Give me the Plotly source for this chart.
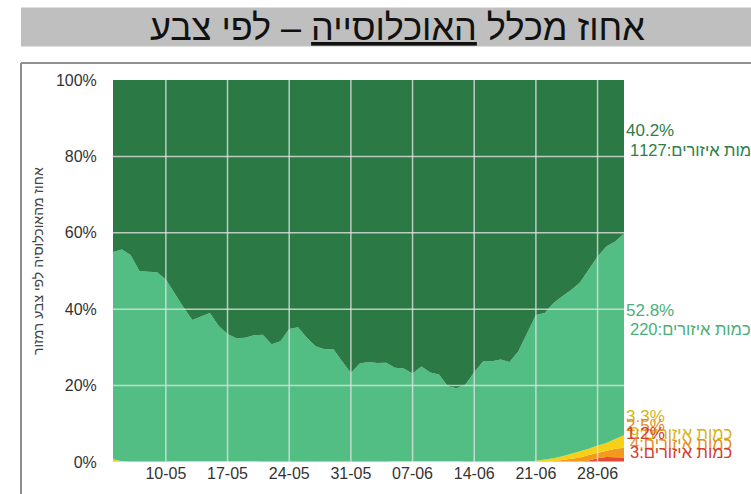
#!/usr/bin/env python3
"""
אחוז מכלל האוכלוסייה לפי צבע רמזור - גרף שטח מוערם
"""

import plotly.graph_objects as go
import pandas as pd

# 日期 (每天一个点, 04-05 到 01-07)
dates = pd.date_range("2020-05-04", "2020-07-01", freq="D")

# x 轴刻度 (每周)
tick_dates = pd.date_range("2020-05-10", "2020-06-28", freq="7D")
y_ticks = [0, 20, 40, 60, 80, 100]
y_tick_text = ["0%", "20%", "40%", "60%", "80%", "100%"]

# 各颜色所占百分比 (从下到上)
red = [0] * 54 + [0.4, 1.0, 1.3, 1.3, 1.2]
orange = [0] * 50 + [0.2, 0.5, 0.8, 1.2, 1.4, 1.3, 1.7, 2.2, 2.5]
yellow = ([0.7, 0.2] + [0] * 5 + [0.2] * 10 + [0] * 15 + [0.2] * 8 + [0] * 7
          + [0.1, 0.3, 0.6, 0.8, 1.0, 1.3, 1.5, 1.7, 2.0, 2.0, 2.5, 3.3])
light_green = [54.3, 55.4, 54.2, 50.0, 49.8, 49.7, 47.8, 43.8, 40.3, 37.0,
               38.0, 38.8, 35.4, 33.3, 32.2, 32.3, 33.0, 33.3, 30.8, 31.6,
               34.8, 35.3, 32.5, 30.3, 29.5, 29.6, 26.4, 23.3, 25.8, 26.2,
               25.9, 26.0, 24.5, 24.3, 23.0, 24.8, 23.2, 22.7, 19.6, 19.1,
               20.3, 23.5, 26.3, 26.4, 26.8, 26.2, 28.9, 33.6, 38.2, 38.4,
               40.6, 41.9, 42.9, 44.3, 46.8, 49.5, 51.4, 51.7, 52.8]
dark_green = [45.0, 44.4, 45.8, 50.0, 50.2, 50.3, 52.2, 56.0, 59.5, 62.8,
              61.8, 61.0, 64.4, 66.5, 67.6, 67.5, 66.8, 66.7, 69.2, 68.4,
              65.2, 64.7, 67.5, 69.7, 70.5, 70.4, 73.6, 76.7, 74.2, 73.8,
              74.1, 74.0, 75.3, 75.5, 76.8, 75.0, 76.6, 77.1, 80.2, 80.7,
              79.7, 76.5, 73.7, 73.6, 73.2, 73.8, 71.1, 66.3, 61.5, 61.0,
              58.4, 56.6, 55.0, 53.0, 49.7, 46.2, 43.6, 42.3, 40.2]

# 右侧标签: 百分比 + 区域数量
label_pct = ["40.2%", "52.8%", "3.3%", "2.5%", "1.2%"]
label_count = ["1127", "220", "9", "4", "3"]

W, H = 751, 494
L, R, T, B = 113, 127, 80, 32
PW, PH = W - L - R, H - T - B


def px_x(px):
    """像素 -> paper 坐标"""
    return (px - L) / PW


def px_y(py):
    return (H - B - py) / PH


def create_chart():
    series = [
        (red, "#e5493a"),
        (orange, "#f39a1e"),
        (yellow, "#f7d117"),
        (light_green, "#52be83"),
        (dark_green, "#2b7a45"),
    ]

    fig = go.Figure()
    for vals, color in series:
        fig.add_trace(go.Scatter(
            x=dates, y=vals, mode="lines", stackgroup="one",
            line=dict(width=0, color=color), fillcolor=color,
            showlegend=False, hoverinfo="skip",
        ))

    shapes = []
    # 网格线 (画在填充之上)
    for d in tick_dates:
        shapes.append(dict(type="line", xref="x", yref="y", x0=d, x1=d, y0=0, y1=100,
                           line=dict(color="rgba(225,225,225,0.8)", width=1.5), layer="above"))
    for v in y_ticks[:-1]:
        shapes.append(dict(type="line", xref="paper", yref="y", x0=0, x1=1, y0=v, y1=v,
                           line=dict(color="rgba(225,225,225,0.8)", width=1.5), layer="above"))

    # 标题灰色底条 + 外框
    shapes.append(dict(type="rect", xref="paper", yref="paper",
                       x0=px_x(21), x1=px_x(752), y0=px_y(46.5), y1=px_y(7.5),
                       fillcolor="#bfbfbf", line=dict(width=0), layer="below"))
    shapes.append(dict(type="line", xref="paper", yref="paper",
                       x0=px_x(21), x1=px_x(752), y0=px_y(63), y1=px_y(63),
                       line=dict(color="#8f8f8f", width=2)))
    shapes.append(dict(type="line", xref="paper", yref="paper",
                       x0=px_x(21), x1=px_x(21), y0=px_y(63), y1=px_y(495),
                       line=dict(color="#8f8f8f", width=2)))

    annotations = [
        dict(x=px_x(397), y=px_y(27), xref="paper", yref="paper", showarrow=False,
             xanchor="center", yanchor="middle",
             text="אחוז מכלל <u>האוכלוסייה</u> – לפי צבע",
             font=dict(family="Liberation Sans", size=36, color="#111111")),
        dict(x=px_x(38), y=px_y(261), xref="paper", yref="paper", showarrow=False,
             xanchor="center", yanchor="middle",
             text="אחוז מהאוכלוסיה לפי צבע רמזור", textangle=-90,
             font=dict(family="Liberation Sans", size=14, color="#444444")),
    ]

    # 每个标签两行: 百分比 / 区域数量
    label_colors = ["#2e7d4a", "#4cae78", "#d6b414", "#e68c1e", "#d23c32"]
    pct_y = [130, 310, 416.5, 425, 433]
    cnt_y = [150, 329, 433, 443, 452]
    for pct, cnt, col, y1, y2 in zip(label_pct, label_count, label_colors, pct_y, cnt_y):
        annotations.append(dict(
            x=1.0, y=px_y(y1), xref="paper", yref="paper", showarrow=False,
            xanchor="left", yanchor="middle", text=pct,
            font=dict(family="Liberation Sans", size=17, color=col),
        ))
        annotations.append(dict(
            x=px_x(628), y=px_y(y2), xref="paper", yref="paper", showarrow=False,
            xanchor="left", yanchor="middle", text=f"{cnt}:כמות איזורים",
            font=dict(family="Liberation Sans", size=16.5, color=col),
        ))

    fig.update_layout(
        width=W, height=H,
        margin=dict(l=L, r=R, t=T, b=B),
        paper_bgcolor="white", plot_bgcolor="white",
        shapes=shapes, annotations=annotations,
        font=dict(family="Liberation Sans", size=16, color="#333333"),
    )
    fig.update_xaxes(range=[dates[0], dates[-1]], tickvals=tick_dates, tickformat="%d-%m",
                     showgrid=False, zeroline=False, showline=False, ticks="",
                     tickfont=dict(size=16, color="#333333"))
    fig.update_yaxes(range=[0, 100], tickvals=y_ticks, ticktext=y_tick_text,
                     showgrid=False, zeroline=False, showline=False, ticks="outside",
                     ticklen=12, tickcolor="rgba(0,0,0,0)",
                     tickfont=dict(size=16, color="#333333"))
    return fig


if __name__ == "__main__":
    fig = create_chart()
    # 去掉页面默认边距, 让图表贴齐窗口
    fig.write_html("out.html", config={"displayModeBar": False},
                   post_script="document.body.style.margin='0';")
